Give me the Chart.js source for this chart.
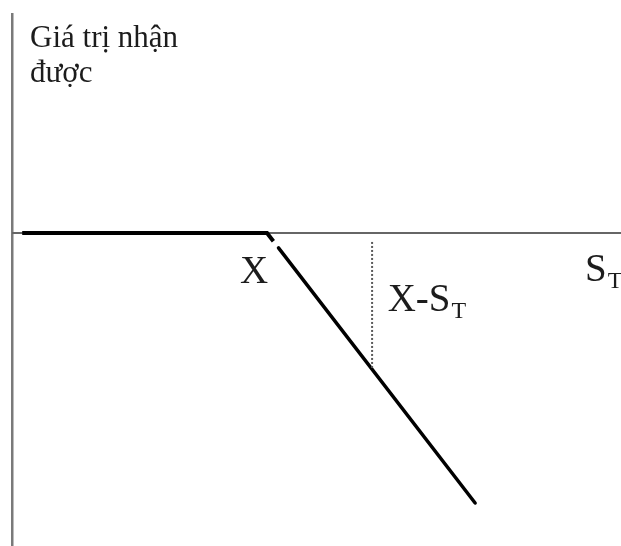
<!DOCTYPE html>
<html lang="vi">
<head>
<meta charset="utf-8">
<title>Giá trị nhận được</title>
<script src="https://cdn.jsdelivr.net/npm/chart.js@4/dist/chart.umd.min.js"></script>
<style>
  html, body { margin: 0; padding: 0; background: #ffffff; }
  #wrap { width: 621px; height: 546px; }
</style>
</head>
<body>
<div id="wrap"><canvas id="payoff" width="621" height="546"></canvas></div>
<script>
// Strike price and the value range shown on each axis
const strike = 100;
const sRange = [0, 238.8];
const valueRange = [-94.6, 66.5];

// Payoff at expiry, drawn as two strokes meeting near the strike
const legFlatS = [4, 100, 102.5];
const legFlatV = [0, 0, -2.5];
const legDownS = [104.5, 181.6];
const legDownV = [-4.5, -81.6];

// Dotted guide showing the payoff X - S_T at one price S_T
const guideS = [141.2, 141.2];
const guideV = [-2.7, -41.2];

const toPoints = (xs, ys) => xs.map((x, i) => ({ x: x, y: ys[i] }));

// Text drawn onto the plot: [text, subscript, S_T, value, font size]
const labels = [
  ['Giá trị nhận', '', 7.06, 56.2, 31],
  ['được', '', 7.06, 45.6, 31],
  ['X', '', 89.4, -15.1, 39],
  ['X-S', 'T', 147.3, -23.6, 39],
  ['S', 'T', 224.7, -14.5, 39]
];

const textPlugin = {
  id: 'payoffText',
  afterDatasetsDraw(chart) {
    const ctx = chart.ctx;
    const xs = chart.scales.x, ys = chart.scales.y;
    ctx.save();
    ctx.fillStyle = '#1c1c1c';
    ctx.textBaseline = 'alphabetic';
    ctx.textAlign = 'left';
    labels.forEach(([text, sub, s, v, size]) => {
      const px = xs.getPixelForValue(s);
      const py = ys.getPixelForValue(v);
      ctx.font = size + 'px "Liberation Serif", "Times New Roman", serif';
      ctx.fillText(text, px, py);
      if (sub) {
        const w = ctx.measureText(text).width;
        ctx.font = Math.round(size * 0.62) + 'px "Liberation Serif", "Times New Roman", serif';
        ctx.fillText(sub, px + w + 1, py + 7);
      }
    });
    ctx.restore();
  }
};

new Chart(document.getElementById('payoff'), {
  type: 'line',
  data: {
    datasets: [
      {
        data: toPoints(guideS, guideV),
        borderColor: '#5a5a5a',
        borderWidth: 2,
        borderDash: [2, 2],
        pointRadius: 0,
        fill: false
      },
      {
        data: toPoints(legFlatS, legFlatV),
        borderColor: '#000000',
        borderWidth: 4,
        borderCapStyle: 'butt',
        pointRadius: 0,
        tension: 0,
        fill: false
      },
      {
        data: toPoints(legDownS, legDownV),
        borderColor: '#000000',
        borderWidth: 3.5,
        borderCapStyle: 'round',
        pointRadius: 0,
        tension: 0,
        fill: false
      }
    ]
  },
  options: {
    responsive: false,
    animation: false,
    events: [],
    layout: { padding: { left: 12, top: 13, right: 0, bottom: 0 } },
    plugins: { legend: { display: false }, tooltip: { enabled: false } },
    scales: {
      x: {
        type: 'linear',
        min: sRange[0],
        max: sRange[1],
        afterBuildTicks: (scale) => { scale.ticks = [{ value: 0 }]; },
        ticks: { display: false },
        border: { display: false },
        grid: { drawTicks: false, color: '#7a7a7a', lineWidth: 2.5 }
      },
      y: {
        type: 'linear',
        min: valueRange[0],
        max: valueRange[1],
        afterBuildTicks: (scale) => { scale.ticks = [{ value: 0 }]; },
        ticks: { display: false },
        border: { display: false },
        grid: { drawTicks: false, color: '#666666', lineWidth: 2 }
      }
    }
  },
  plugins: [textPlugin]
});
</script>
</body>
</html>
